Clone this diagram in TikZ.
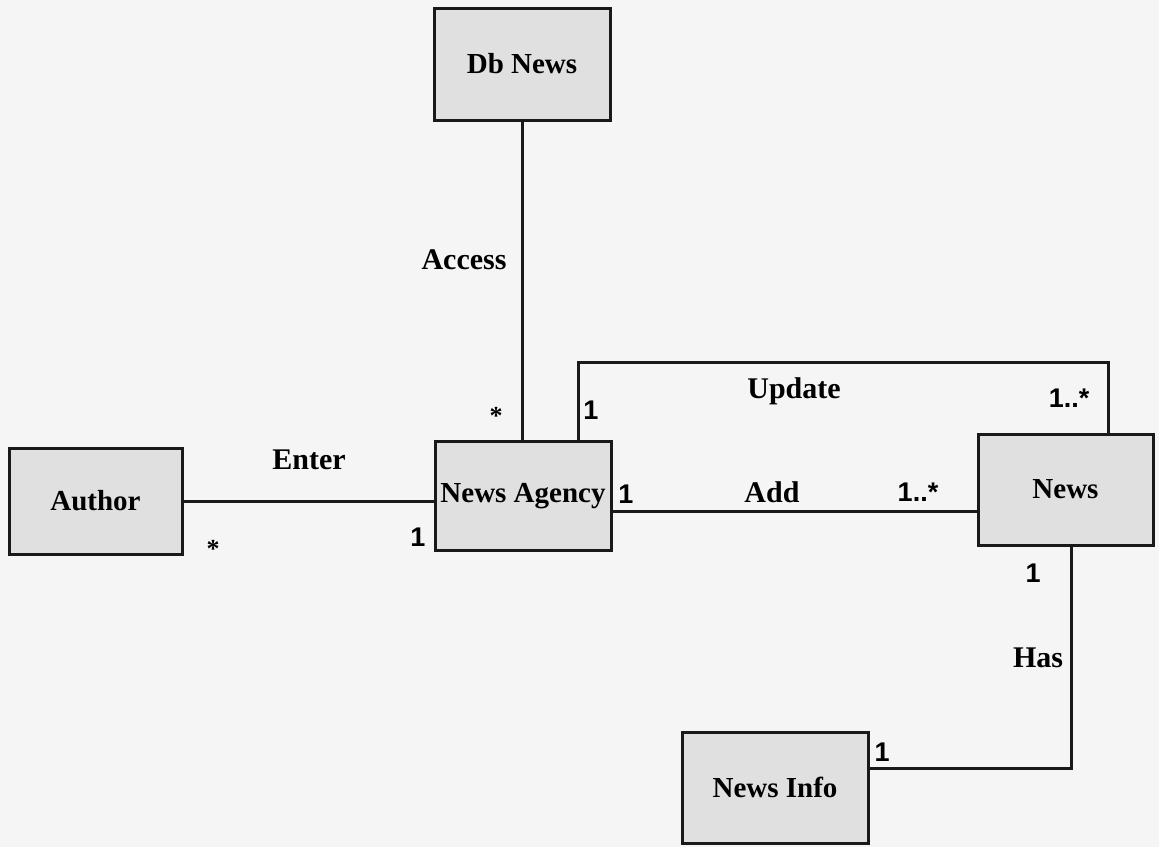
\documentclass[tikz,border=0pt]{standalone}
\usepackage{fontspec}
\setmainfont{Liberation Serif}
\newfontfamily\arialfont{Liberation Sans}
\begin{document}
\begin{tikzpicture}[x=1pt,y=-1pt,
  cls/.style={draw=black!90, line width=3pt, fill=black!12, inner sep=0pt,
    font=\fontsize{29}{32}\selectfont\bfseries},
  conn/.style={draw=black!90, line width=3pt},
  lbl/.style={inner sep=0pt, font=\fontsize{30}{33}\selectfont\bfseries},
  mult/.style={inner sep=0pt, font=\arialfont\fontsize{27}{30}\selectfont\bfseries},
  star/.style={inner sep=0pt, font=\fontsize{26}{30}\selectfont\bfseries}]
\useasboundingbox (0,0) rectangle (1159,847);
\fill[black!4] (0,0) rectangle (1159,847);
% classes
\node[cls, minimum width=176pt, minimum height=112pt] (dbnews) at (522,64) {Db News};
\node[cls, minimum width=176pt, minimum height=109pt] (agency) at (523,496) {News Agency};
\node[cls, minimum width=175pt, minimum height=111pt] (news) at (1065.5,489.5) {News};
\node[cls, minimum width=186pt, minimum height=111pt] (info) at (775,787.5) {News Info};
\node[cls, minimum width=173pt, minimum height=106pt] (author) at (95.5,501) {Author};
% connector bends
\coordinate (addy) at (0,511);
\coordinate (u1) at (578,362);
\coordinate (u2) at (1108,362);
\coordinate (h) at (1071,768);
% connectors
\draw[conn] (dbnews.south) -- (dbnews.south |- agency.north);
\draw[conn] (author.east) -- (author.east -| agency.west);
\draw[conn] (agency.east |- addy) -- (news.west |- addy);
\draw[conn] (agency.north -| u1) -- (u1) -- (u2) -- (u2 |- news.north);
\draw[conn] (news.south -| h) -- (h) -- (h -| info.east);
% labels
\node[lbl] (laccess) at (464,260) {Access};
\node[lbl] (lupdate) at (794,391) {Update};
\node[lbl] (lenter) at (309,460) {Enter};
\node[lbl] (ladd) at (772,492) {Add};
\node[lbl] (lhas) at (1038,658) {Has};
% multiplicities
\node[star] (m1) at (496,416) {*};
\node[mult] (m2) at (591,410) {1};
\node[mult] (m3) at (1069,398) {1..*};
\node[star] (m4) at (213,549) {*};
\node[mult] (m5) at (418,537) {1};
\node[mult] (m6) at (626,494) {1};
\node[mult] (m7) at (918,492) {1..*};
\node[mult] (m8) at (1033,573) {1};
\node[mult] (m9) at (882,752) {1};
\end{tikzpicture}
\end{document}
